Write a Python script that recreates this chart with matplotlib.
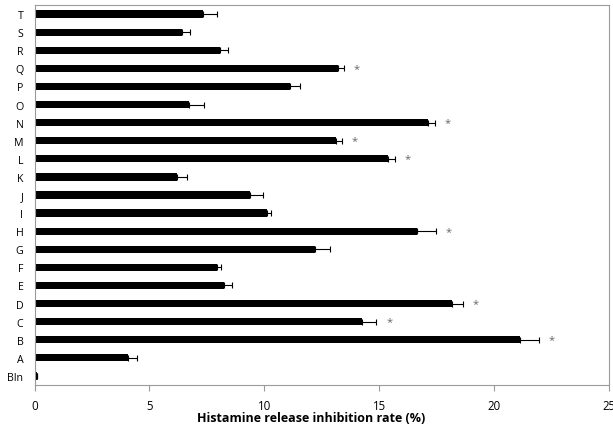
import numpy as np
import matplotlib.pyplot as plt

labels = ["Bln", "A", "B", "C", "D", "E", "F", "G", "H", "I", "J",
          "K", "L", "M", "N", "O", "P", "Q", "R", "S", "T"]
values = [0.1, 4.06, 21.12, 14.24, 18.15, 8.25, 7.93, 12.22, 16.64, 10.13, 9.38,
          6.21, 15.39, 13.11, 17.13, 6.72, 11.13, 13.22, 8.07, 6.40, 7.32]
errors = [0.0, 0.42, 0.84, 0.64, 0.51, 0.35, 0.17, 0.62, 0.84, 0.17, 0.57,
          0.44, 0.30, 0.26, 0.28, 0.65, 0.44, 0.25, 0.35, 0.35, 0.64]
significant = ["B", "C", "D", "H", "L", "M", "N", "Q"]

plt.rcParams['font.family'] = ['Open Sans', 'DejaVu Sans']

fig = plt.figure(figsize=(6.13, 4.27), dpi=100)
ax = fig.add_axes([0.0563, 0.096, 0.9372, 0.89])

y = np.arange(len(labels))
ax.barh(y, values, height=0.4, color="black",
        xerr=[np.zeros(len(errors)), errors],
        error_kw=dict(ecolor="black", elinewidth=0.8, capsize=2.5, capthick=0.8))

# significance stars
for i, lab in enumerate(labels):
    if lab in significant:
        ax.text(values[i] + errors[i] + 0.55, y[i], "*", color="#666666",
                fontsize=8, ha="center", va="center")

ax.set_xlim(0, 25)
ax.set_ylim(-0.5, len(labels) - 0.5)
ax.set_xticks([0, 5, 10, 15, 20, 25])
ax.set_yticks(y)
ax.set_yticklabels(labels)

for s in ax.spines.values():
    s.set_color("#9a9a9a")
    s.set_linewidth(0.8)

ax.tick_params(axis="x", length=4, color="#9a9a9a", labelsize=8.3, pad=6)
ax.tick_params(axis="y", length=0, labelsize=7.7, pad=8)

ax.set_xlabel("Histamine release inhibition rate (%)", fontsize=9, fontweight="bold")
ax.xaxis.set_label_coords(0.481, -0.068)

plt.savefig("out.png", dpi=100)
